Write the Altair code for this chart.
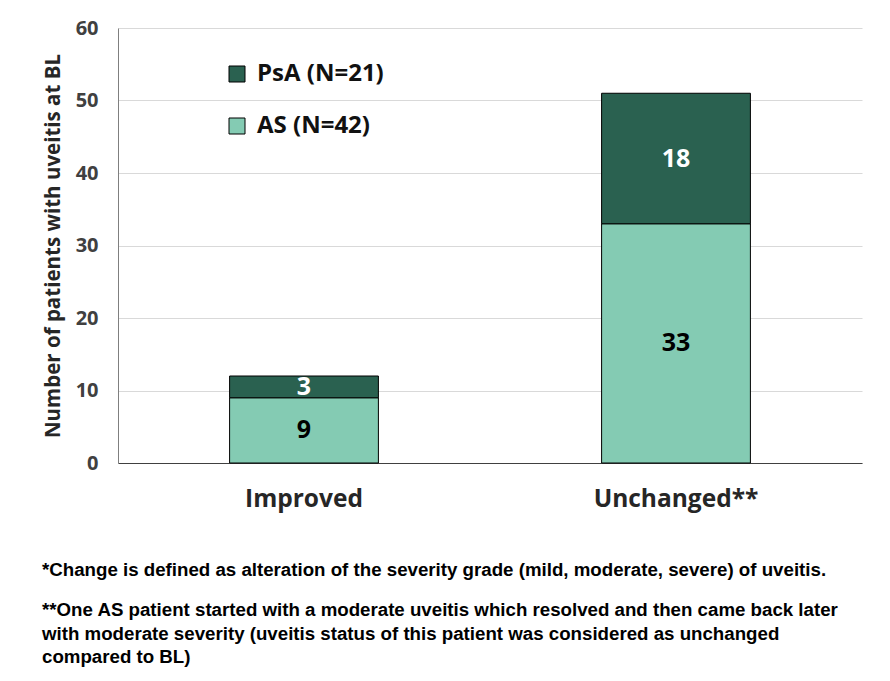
import altair as alt
import pandas as pd

categories = ["Improved", "Unchanged**"]
groups = ["PsA (N=21)", "AS (N=42)"]
as_values = [9, 33]
psa_values = [3, 18]
y_ticks = [0, 10, 20, 30, 40, 50, 60]

footnote1 = "*Change is defined as alteration of the severity grade (mild, moderate, severe) of uveitis."
footnote2 = [
    "**One AS patient started with a moderate uveitis which resolved and then came back later",
    "with moderate severity (uveitis status of this patient was considered as unchanged",
    "compared to BL)",
]

rows = []
for c, a, p in zip(categories, as_values, psa_values):
    rows.append({"cat": c, "group": "AS (N=42)", "value": a, "ord": 0,
                 "tcolor": "black"})
    rows.append({"cat": c, "group": "PsA (N=21)", "value": p, "ord": 1,
                 "tcolor": "white"})
df = pd.DataFrame(rows)

FONT = "Open Sans, Lato, sans-serif"
NARROW = "Liberation Sans, Arial, sans-serif"
W, H = 744, 435

x_enc = alt.X("cat:N", sort=categories, title=None,
              scale=alt.Scale(paddingInner=0.6, paddingOuter=0.3),
              axis=alt.Axis(labelAngle=0, labelFont=FONT, labelFontSize=24.5,
                            labelFontWeight="bold", labelColor="#262626",
                            labelPadding=24, ticks=False, domainColor="#404040",
                            domainWidth=1.2))

bars = alt.Chart(df).mark_bar(stroke="black", strokeWidth=1).encode(
    x=x_enc,
    y=alt.Y("value:Q", stack="zero",
            title="Number of patients with uveitis at BL",
            scale=alt.Scale(domain=[0, 60]),
            axis=alt.Axis(values=y_ticks, ticks=False, labelFont=FONT,
                          labelFontSize=20, labelFontWeight="bold",
                          labelColor="#404040", labelPadding=20,
                          titleFont=FONT, titleFontSize=20.5,
                          titleFontWeight="bold", titleColor="#262626",
                          titlePadding=12, gridColor="#d9d9d9",
                          domainColor="#7f7f7f")),
    color=alt.Color("group:N",
                    scale=alt.Scale(domain=groups, range=["#2a6150", "#84cbb3"]),
                    legend=alt.Legend(title=None, orient="none", legendX=107,
                                      legendY=34, symbolType="square",
                                      symbolSize=256, symbolStrokeColor="black",
                                      symbolStrokeWidth=1, labelFont=FONT,
                                      labelFontSize=24, labelFontWeight="bold",
                                      labelColor="#111", rowPadding=28,
                                      labelOffset=8)),
    order=alt.Order("ord:Q"),
)

labels = alt.Chart(df).transform_stack(
    stack="value", groupby=["cat"], as_=["y0", "y1"],
    sort=[alt.SortField("ord", order="ascending")]
).transform_calculate(
    mid="(datum.y0 + datum.y1) / 2"
).mark_text(font=FONT, fontSize=25, fontWeight="bold", baseline="middle").encode(
    x=alt.X("cat:N", sort=categories),
    y=alt.Y("mid:Q"),
    text=alt.Text("value:Q"),
    color=alt.Color("tcolor:N", scale=None),
)

note1 = alt.Chart(pd.DataFrame({"t": [footnote1]})).mark_text(
    font=NARROW, fontSize=18.7, fontWeight="bold", color="black",
    align="left", baseline="top"
).encode(x=alt.value(-76), y=alt.value(H + 98), text="t:N")

note2 = alt.Chart(pd.DataFrame({"k": [0]})).mark_text(
    font=NARROW, fontSize=18.7, fontWeight="bold", color="black",
    align="left", baseline="top", lineHeight=23.5, text=footnote2
).encode(x=alt.value(-76), y=alt.value(H + 138))

chart = alt.layer(bars, labels, note1, note2).properties(
    width=W, height=H,
    padding={"left": 34, "top": 10, "right": 6, "bottom": 5},
).configure_view(stroke=None)

chart.save("out.html", embed_options={"renderer": "svg", "actions": False})
